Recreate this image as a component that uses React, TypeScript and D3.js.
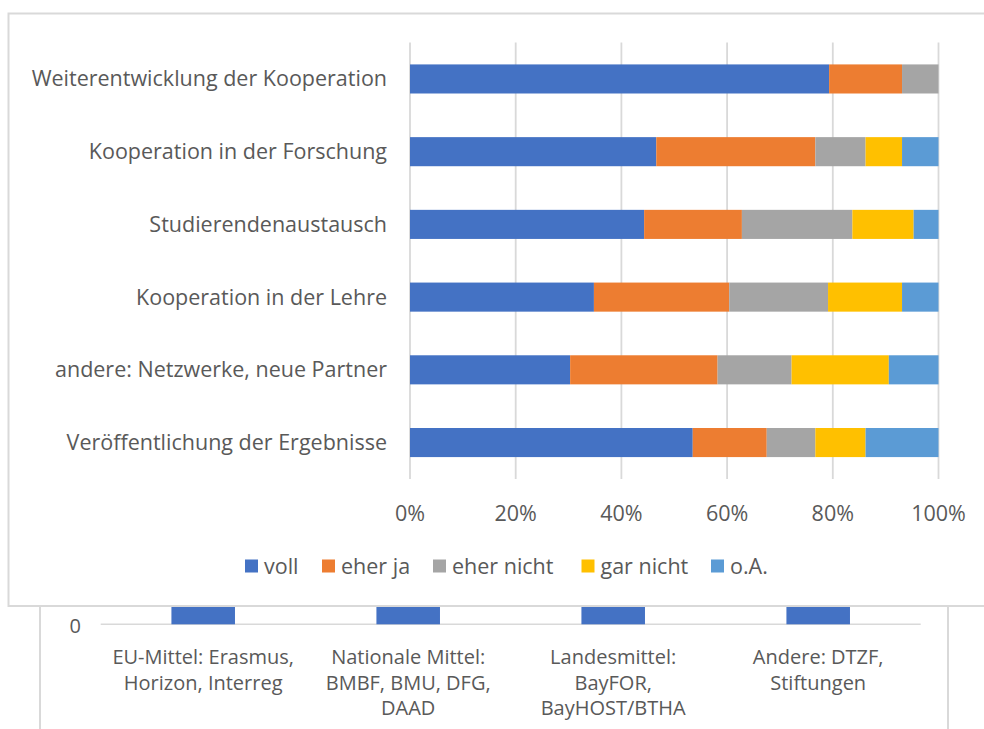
import React from "react";
import * as d3 from "d3";

const categories = [
  "Weiterentwicklung der Kooperation",
  "Kooperation in der Forschung",
  "Studierendenaustausch",
  "Kooperation in der Lehre",
  "andere: Netzwerke, neue Partner",
  "Veröffentlichung der Ergebnisse",
];
const seriesNames = ["voll", "eher ja", "eher nicht", "gar nicht", "o.A."];
const voll = [79.3, 46.6, 44.3, 34.8, 30.3, 53.5];
const eherJa = [13.8, 30.1, 18.5, 25.6, 27.9, 14.0];
const eherNicht = [6.9, 9.5, 20.9, 18.7, 14.0, 9.2];
const garNicht = [0, 6.9, 11.6, 14.0, 18.4, 9.5];
const oA = [0, 6.9, 4.7, 6.9, 9.4, 13.8];
const seriesColors = ["#4472c4", "#ed7d31", "#a5a5a5", "#ffc000", "#5b9bd5"];
const xTicks = [0, 0.2, 0.4, 0.6, 0.8, 1.0];

// background (partially hidden) column chart
const bgCategories = [
  ["EU-Mittel: Erasmus,", "Horizon, Interreg"],
  ["Nationale Mittel:", "BMBF, BMU, DFG,", "DAAD"],
  ["Landesmittel:", "BayFOR,", "BayHOST/BTHA"],
  ["Andere: DTZF,", "Stiftungen"],
];
const bgValues = [10, 10, 10, 10];
const bgTicks = [0];

const FONT = "'Open Sans', 'Noto Sans', sans-serif";
const TEXT = "#595959";
const GRID = "#d9d9d9";

export default function App() {
  const W = 984, H = 729;

  const x = d3.scaleLinear().domain([0, 1]).range([410, 938.5]);
  const y = d3.scaleBand<string>().domain(categories).range([42.6, 478.9]).paddingInner(0.6).paddingOuter(0.3);

  const rows = categories.map((c, i) => {
    const total = voll[i] + eherJa[i] + eherNicht[i] + garNicht[i] + oA[i];
    return {
      cat: c,
      "voll": voll[i] / total,
      "eher ja": eherJa[i] / total,
      "eher nicht": eherNicht[i] / total,
      "gar nicht": garNicht[i] / total,
      "o.A.": oA[i] / total,
    } as any;
  });
  const stacked = d3.stack<any>().keys(seriesNames)(rows);

  const bx = d3.scaleBand<number>().domain(d3.range(bgCategories.length)).range([100.7, 920.7]).paddingInner(0.69).paddingOuter(0.345);
  const by = d3.scaleLinear().domain([0, 10]).range([624.3, 400]);

  const mainFont = 21.5;
  const bgFont = 20;
  const legendX = [245, 322, 433, 581.5, 711];

  return (
    <svg width={W} height={H} style={{ position: "absolute", left: 0, top: 0, background: "#fff" }} fontFamily={FONT}>
      {/* background chart */}
      <rect x={40} y={540} width={908} height={230} fill="#fff" stroke={GRID} strokeWidth={2} />
      <line x1={100.7} x2={920.7} y1={by(0)} y2={by(0)} stroke={GRID} strokeWidth={1.5} />
      {bgTicks.map((t) => (
        <text key={t} x={81} y={by(t) + 2} dy="0.35em" textAnchor="end" fontSize={bgFont} fill={TEXT}>{t}</text>
      ))}
      {bgValues.map((v, i) => (
        <rect key={i} x={bx(i)} width={bx.bandwidth()} y={by(v)} height={by(0) - by(v)} fill="#4472c4" />
      ))}
      {bgCategories.map((lines, i) => (
        <text key={i} x={(bx(i) as number) + bx.bandwidth() / 2} y={657} textAnchor="middle" fontSize={bgFont} fill={TEXT}>
          {lines.map((l, j) => (
            <tspan key={j} x={(bx(i) as number) + bx.bandwidth() / 2} dy={j === 0 ? "0.35em" : 25.5}>{l}</tspan>
          ))}
        </text>
      ))}

      {/* main chart */}
      <rect x={8.5} y={13.5} width={1000} height={592.5} fill="#fff" stroke={GRID} strokeWidth={2} />
      {xTicks.map((t) => (
        <line key={t} x1={x(t)} x2={x(t)} y1={42.6} y2={478.9} stroke={GRID} strokeWidth={1.8} />
      ))}
      {stacked.map((s, si) => (
        <g key={s.key} fill={seriesColors[si]}>
          {s.map((d, i) => (
            <rect key={i} x={x(d[0])} width={Math.max(0, x(d[1]) - x(d[0]))} y={y(categories[i])} height={y.bandwidth()} />
          ))}
        </g>
      ))}
      {categories.map((c) => (
        <text key={c} x={387} y={(y(c) as number) + y.bandwidth() / 2} dy="0.35em" textAnchor="end" fontSize={mainFont} fill={TEXT}>{c}</text>
      ))}
      {xTicks.map((t) => (
        <text key={t} x={x(t)} y={513} dy="0.35em" textAnchor="middle" fontSize={mainFont} fill={TEXT}>{d3.format(".0%")(t)}</text>
      ))}
      {seriesNames.map((n, i) => (
        <g key={n} transform={`translate(${legendX[i]},566)`}>
          <rect x={0} y={-6.5} width={13} height={13} fill={seriesColors[i]} />
          <text x={19} y={0} dy="0.35em" fontSize={mainFont} fill={TEXT}>{n}</text>
        </g>
      ))}
    </svg>
  );
}
